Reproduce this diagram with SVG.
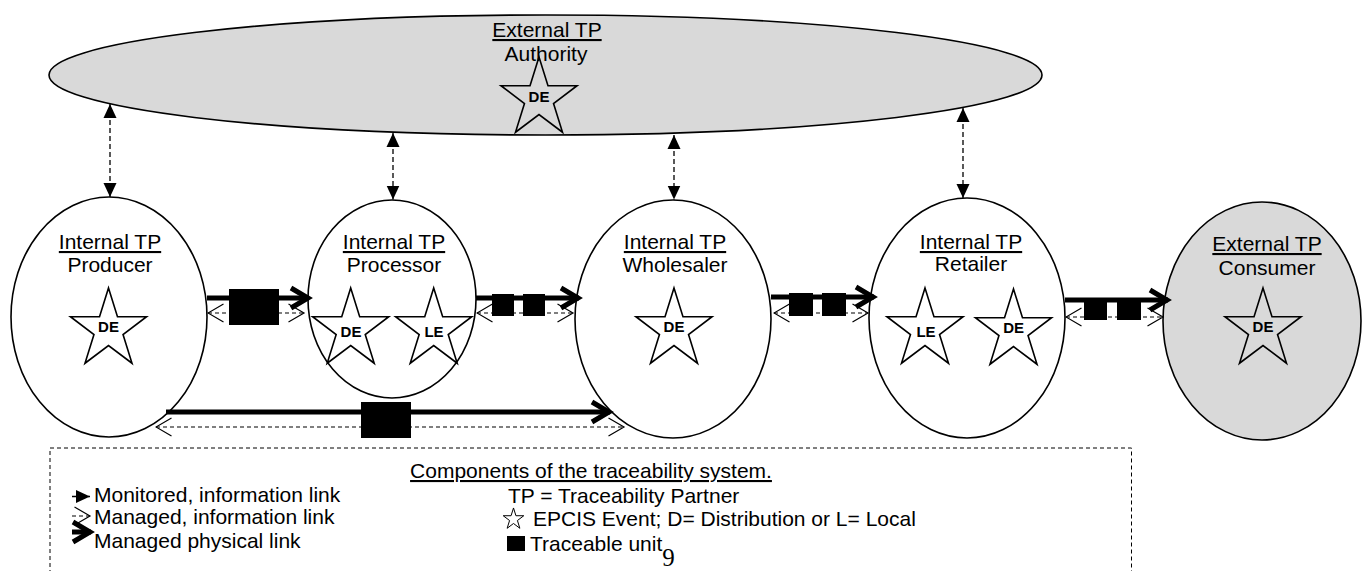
<svg xmlns="http://www.w3.org/2000/svg" xmlns:xlink="http://www.w3.org/1999/xlink" width="1369" height="571" viewBox="0 0 1369 571">
<style>
  text { font-family: "Liberation Sans", Arial, sans-serif; fill: #000; }
  .lbl { font-size: 21px; text-anchor: middle; }
  .ul { text-decoration: underline; }
  .ev { font-size: 15px; font-weight: bold; text-anchor: middle; }
  .leg { font-size: 21px; }
  .node { stroke: #000; stroke-width: 1.6; }
  .white { fill: #fff; }
  .grey { fill: #d9d9d9; }
  .st { stroke-width: 1.6; }
  .mon { stroke: #000; stroke-width: 1.3; stroke-dasharray: 5 3; fill: none; }
  .info { stroke: #000; stroke-width: 1.2; stroke-dasharray: 4 3; fill: none; }
  .phys { stroke: #000; stroke-width: 5; fill: none; }
  .unit { fill: #000; }
</style>
<defs>
  <polygon id="star" fill="none" stroke="#000" points="0,-41.6 8.98,-12.85 38.04,-12.85 14.53,4.91 23.51,33.65 0,15.89 -23.51,33.65 -14.53,4.91 -38.04,-12.85 -8.98,-12.85"/>
  <marker id="tri" viewBox="0 0 14 14" refX="14" refY="7" markerWidth="14" markerHeight="14" markerUnits="userSpaceOnUse" orient="auto-start-reverse">
    <path d="M0,0.5 L14,7 L0,13.5 z" fill="#000"/>
  </marker>
  <marker id="open" viewBox="0 0 18 20" refX="16.5" refY="10" markerWidth="18" markerHeight="20" markerUnits="userSpaceOnUse" orient="auto-start-reverse">
    <path d="M1,1 L16.5,10 L1,19" fill="none" stroke="#000" stroke-width="1.2"/>
  </marker>
  <marker id="thick" viewBox="0 0 28 28" refX="22" refY="14" markerWidth="28" markerHeight="28" markerUnits="userSpaceOnUse" orient="auto">
    <path d="M4,4 L21,14 L4,24" fill="none" stroke="#000" stroke-width="5"/>
  </marker>
</defs>
<rect width="1369" height="571" fill="#fff"/>

<g id="authority">
  <ellipse class="node grey" cx="545.5" cy="75" rx="496.5" ry="60"/>
  <text class="lbl ul" x="547" y="37">External TP</text>
  <text class="lbl" x="546" y="61">Authority</text>
  <use href="#star" class="st" x="539" y="98.6"/>
  <text class="ev" x="539" y="102">DE</text>
</g>

<g id="producer">
  <ellipse class="node white" cx="109" cy="317" rx="98" ry="120"/>
  <text class="lbl ul" x="110" y="249">Internal TP</text>
  <text class="lbl" x="110" y="272">Producer</text>
  <use href="#star" class="st" x="108.5" y="329.6"/>
  <text class="ev" x="108.5" y="332">DE</text>
</g>

<g id="processor">
  <ellipse class="node white" cx="392" cy="299" rx="84" ry="99"/>
  <text class="lbl ul" x="394" y="249">Internal TP</text>
  <text class="lbl" x="394" y="272">Processor</text>
  <use href="#star" class="st" x="350.7" y="329.6"/>
  <text class="ev" x="351" y="337">DE</text>
  <use href="#star" class="st" x="433.7" y="329.6"/>
  <text class="ev" x="434" y="337">LE</text>
</g>

<g id="wholesaler">
  <ellipse class="node white" cx="673" cy="319" rx="98" ry="119"/>
  <text class="lbl ul" x="675" y="249">Internal TP</text>
  <text class="lbl" x="675" y="272">Wholesaler</text>
  <use href="#star" class="st" x="674" y="329.6"/>
  <text class="ev" x="674" y="332">DE</text>
</g>

<g id="retailer">
  <ellipse class="node white" cx="967" cy="318" rx="98" ry="120"/>
  <text class="lbl ul" x="971" y="249">Internal TP</text>
  <text class="lbl" x="971" y="271">Retailer</text>
  <use href="#star" class="st" x="925" y="329.6"/>
  <text class="ev" x="926" y="337">LE</text>
  <use href="#star" class="st" x="1013.5" y="330.6"/>
  <text class="ev" x="1013.7" y="333">DE</text>
</g>

<g id="consumer">
  <ellipse class="node grey" cx="1262" cy="321" rx="99" ry="119"/>
  <text class="lbl ul" x="1267" y="251">External TP</text>
  <text class="lbl" x="1267" y="275">Consumer</text>
  <use href="#star" class="st" x="1263" y="329.6"/>
  <text class="ev" x="1263" y="332">DE</text>
</g>

<g id="connectors">
  <!-- monitored information links to the authority -->
  <line class="mon" x1="110" y1="104" x2="110" y2="197" marker-start="url(#tri)" marker-end="url(#tri)"/>
  <line class="mon" x1="393" y1="133" x2="393" y2="199.5" marker-start="url(#tri)" marker-end="url(#tri)"/>
  <line class="mon" x1="674" y1="135" x2="674" y2="199.5" marker-start="url(#tri)" marker-end="url(#tri)"/>
  <line class="mon" x1="963" y1="108" x2="963" y2="198" marker-start="url(#tri)" marker-end="url(#tri)"/>

  <!-- producer to processor -->
  <line class="info" x1="208" y1="313" x2="304" y2="313" marker-start="url(#open)" marker-end="url(#open)"/>
  <line class="phys" x1="207" y1="298" x2="309" y2="298" marker-end="url(#thick)"/>
  <rect class="unit" x="229" y="289" width="50" height="36"/>

  <!-- processor to wholesaler -->
  <line class="info" x1="477" y1="313" x2="573" y2="313" marker-start="url(#open)" marker-end="url(#open)"/>
  <line class="phys" x1="476" y1="298" x2="579" y2="298" marker-end="url(#thick)"/>
  <rect class="unit" x="492" y="294" width="22" height="22"/>
  <rect class="unit" x="523" y="294" width="22" height="22"/>

  <!-- wholesaler to retailer -->
  <line class="info" x1="774" y1="313" x2="868" y2="313" marker-start="url(#open)" marker-end="url(#open)"/>
  <line class="phys" x1="771" y1="297" x2="874" y2="297" marker-end="url(#thick)"/>
  <rect class="unit" x="789" y="293" width="24" height="23"/>
  <rect class="unit" x="822" y="293" width="24" height="23"/>

  <!-- retailer to consumer -->
  <line class="info" x1="1066" y1="317" x2="1163" y2="317" marker-start="url(#open)" marker-end="url(#open)"/>
  <line class="phys" x1="1065" y1="300" x2="1168" y2="300" marker-end="url(#thick)"/>
  <rect class="unit" x="1084" y="298" width="23" height="22"/>
  <rect class="unit" x="1117" y="298" width="24" height="22"/>

  <!-- producer to wholesaler -->
  <line class="info" x1="156" y1="427" x2="624" y2="427" marker-start="url(#open)" marker-end="url(#open)"/>
  <line class="phys" x1="166" y1="412" x2="610" y2="412" marker-end="url(#thick)"/>
  <rect class="unit" x="361" y="402" width="50" height="36"/>
</g>

<g id="legend">
  <rect x="50" y="448" width="1081.5" height="140" fill="none" stroke="#000" stroke-width="1" stroke-dasharray="4 3"/>
  <text class="lbl ul" x="591" y="478">Components of the traceability system.</text>

  <line class="mon" x1="72" y1="496.5" x2="90" y2="496.5" stroke-dasharray="3 3" marker-end="url(#tri)"/>
  <text class="leg" x="94" y="502">Monitored, information link</text>
  <line class="info" x1="72" y1="516" x2="90" y2="516" marker-end="url(#open)"/>
  <text class="leg" x="94" y="524">Managed, information link</text>
  <line class="phys" x1="72" y1="532" x2="91" y2="532" stroke-width="4.5" marker-end="url(#thick)"/>
  <text class="leg" x="94" y="548">Managed physical link</text>

  <text class="leg" x="508" y="503">TP = Traceability Partner</text>
  <use href="#star" transform="translate(513.5,519.2) scale(0.27)" stroke-width="3.7"/>
  <text class="leg" x="533" y="526">EPCIS Event; D= Distribution or L= Local</text>
  <rect class="unit" x="507" y="536" width="18" height="15"/>
  <text class="leg" x="530" y="551">Traceable unit<tspan font-family="'Liberation Serif', 'Times New Roman', serif" font-size="25" dy="15">9</tspan></text>
</g>
</svg>
